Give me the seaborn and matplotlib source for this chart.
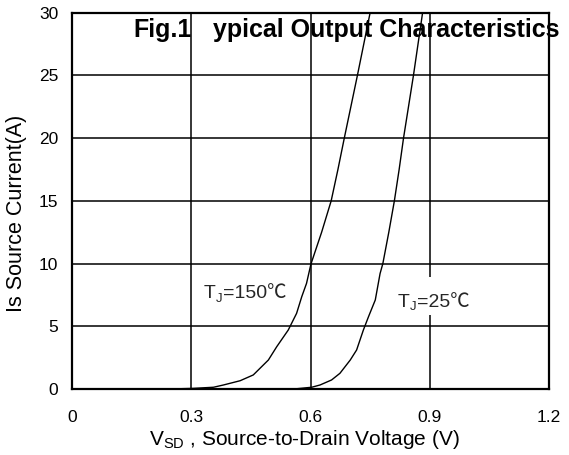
import numpy as np
import pandas as pd
import matplotlib
matplotlib.use("Agg")
import matplotlib.pyplot as plt
import matplotlib.transforms as mtransforms
from matplotlib.patches import Rectangle
import seaborn as sns

# Source-to-drain diode forward characteristics
v_150 = [0.247, 0.305, 0.356, 0.381, 0.423, 0.456, 0.494, 0.515, 0.544, 0.565, 0.578,
         0.590, 0.601, 0.628, 0.652, 0.669, 0.685, 0.718, 0.750]
i_150 = [0.00, 0.05, 0.14, 0.32, 0.66, 1.12, 2.31, 3.37, 4.70, 6.03, 7.36,
         8.42, 9.95, 12.5, 15.0, 17.5, 20.0, 25.0, 30.0]

v_25 = [0.523, 0.565, 0.603, 0.624, 0.653, 0.674, 0.700, 0.716, 0.733, 0.746, 0.763,
        0.775, 0.782, 0.797, 0.811, 0.823, 0.834, 0.859, 0.882]
i_25 = [0.00, 0.02, 0.14, 0.32, 0.72, 1.25, 2.31, 3.11, 4.70, 5.77, 7.10,
        9.20, 10.0, 12.5, 15.0, 17.5, 20.0, 25.0, 30.0]

x_ticks = [0, 0.3, 0.6, 0.9, 1.2]
x_tick_labels = ["0", "0.3", "0.6", "0.9", "1.2"]
y_ticks = [0, 5, 10, 15, 20, 25, 30]

title_parts = ["Fig.1", "ypical Output Characteristics"]
title_x = [0.128, 0.296]

sns.set_theme(style="white")
plt.rcParams["font.family"] = ["Liberation Sans", "Noto Sans CJK SC", "DejaVu Sans"]
plt.rcParams["mathtext.fontset"] = "custom"
plt.rcParams["mathtext.rm"] = "Liberation Sans"

fig = plt.figure(figsize=(5.69, 4.55), dpi=100)
ax = fig.add_axes([72 / 569, 1 - 389 / 455, 477 / 569, (389 - 12.7) / 455])

df150 = pd.DataFrame({"V": v_150, "I": i_150})
df25 = pd.DataFrame({"V": v_25, "I": i_25})
sns.lineplot(data=df150, x="V", y="I", ax=ax, color="black", lw=1.0, estimator=None, sort=False, zorder=3)
sns.lineplot(data=df25, x="V", y="I", ax=ax, color="black", lw=1.0, estimator=None, sort=False, zorder=3)

ax.set_xlim(0, 1.2)
ax.set_ylim(0, 30)
ax.set_xticks(x_ticks)
ax.set_xticklabels(x_tick_labels)
ax.set_yticks(y_ticks)
ax.grid(True, color="black", lw=1.1)
ax.set_axisbelow(True)
for s in ax.spines.values():
    s.set_color("black")
    s.set_linewidth(1.6)
    s.set_zorder(4)
ax.tick_params(axis="both", length=0, labelsize=12.5, colors="black")
ax.tick_params(axis="x", pad=15)
ax.tick_params(axis="y", pad=10)

ax.set_xlabel("V$_\\mathregular{SD}$ , Source-to-Drain Voltage (V)", fontsize=15, color="black")
ax.xaxis.set_label_coords(0.487, -0.103)
ax.xaxis.label.set_va("top")
ax.set_ylabel("Is Source Current(A)", fontsize=15.5, color="black", va="center")
ax.yaxis.set_label_coords(-0.117, 0.466)

# figure title drawn inside the plot frame
for part, px in zip(title_parts, title_x):
    ax.text(px, 0.9346, part, transform=ax.transAxes, ha="left", va="baseline",
            fontsize=18, fontweight="bold", color="black", clip_on=False, zorder=5)

renderer = fig.canvas.get_renderer()
ident = mtransforms.IdentityTransform()


def tj_label(x, y, value, fs=14):
    """Junction temperature label: T, subscript J, then '=value℃'."""
    x0, y0 = ax.transData.transform((x, y))
    t = ax.text(x0, y0, "T", transform=ident, fontsize=fs, va="baseline", ha="left", zorder=5)
    bb = t.get_window_extent(renderer)
    j = ax.text(bb.x1 + 0.3, y0 - 3.5, "J", transform=ident, fontsize=fs * 0.68,
                va="baseline", ha="left", zorder=5)
    bj = j.get_window_extent(renderer)
    ax.text(bj.x1 + 0.3, y0, "=" + value + "℃", transform=ident, fontsize=fs,
            va="baseline", ha="left", zorder=5)


# white patch behind the 25 °C label, interrupting the 0.9 V grid line
ax.add_patch(Rectangle((0.805, 5.9), 0.2, 3.03, facecolor="white", edgecolor="none", zorder=1))

tj_label(0.332, 7.25, "150")
tj_label(0.820, 6.54, "25")

fig.savefig("out.png", dpi=100)
